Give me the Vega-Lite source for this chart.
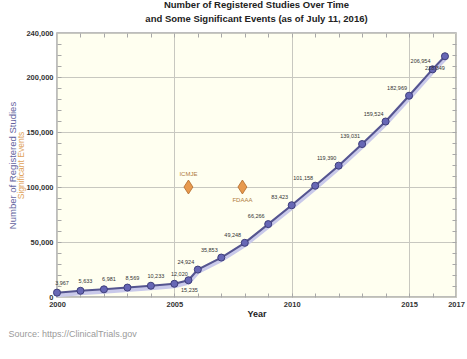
{
  "$schema": "https://vega.github.io/schema/vega-lite/v6.json",
  "width": 399,
  "height": 264,
  "autosize": {"type": "none"},
  "padding": {"left": 57, "top": 33, "right": 11, "bottom": 62},
  "background": "white",
  "title": {
    "text": ["Number of Registered Studies Over Time", "and Some Significant Events (as of July 11, 2016)"],
    "font": "Liberation Sans",
    "fontSize": 9.5,
    "fontWeight": "bold",
    "color": "#222222",
    "lineHeight": 14,
    "offset": 6,
    "anchor": "middle"
  },
  "config": {
    "view": {"fill": "#FFFFF0", "stroke": "#A8A8A8", "strokeWidth": 1.5},
    "font": "Liberation Sans"
  },
  "datasets": {
    "studies": [
      {"year": 2000, "count": 3967},
      {"year": 2001, "count": 5633},
      {"year": 2002, "count": 6981},
      {"year": 2003, "count": 8569},
      {"year": 2004, "count": 10233},
      {"year": 2005, "count": 12020},
      {"year": 2005.6, "count": 15235},
      {"year": 2006, "count": 24924},
      {"year": 2007, "count": 35853},
      {"year": 2008, "count": 49248},
      {"year": 2009, "count": 66266},
      {"year": 2010, "count": 83423},
      {"year": 2011, "count": 101158},
      {"year": 2012, "count": 119390},
      {"year": 2013, "count": 139031},
      {"year": 2014, "count": 159524},
      {"year": 2015, "count": 182969},
      {"year": 2016, "count": 206954},
      {"year": 2016.53, "count": 218849}
    ],
    "events": [
      {"year": 2005.6, "value": 100000, "event": "ICMJE"},
      {"year": 2007.9, "value": 100000, "event": "FDAAA"}
    ]
  },
  "layer": [
    {
      "data": {"name": "studies"},
      "mark": {"type": "line", "color": "#C9C9EA", "strokeWidth": 5, "yOffset": 2},
      "encoding": {
        "x": {
          "field": "year", "type": "quantitative",
          "scale": {"domain": [2000, 2017], "nice": false, "zero": false},
          "axis": {
            "orient": "bottom",
            "values": [2000, 2005, 2010, 2015, 2017],
            "format": "d",
            "labelFont": "Liberation Sans", "labelFontSize": 7.5, "labelFontWeight": "bold", "labelColor": "#333333",
            "labelPadding": 3, "labelFlush": false, "labelOverlap": false,
            "ticks": false, "domain": false,
            "grid": true, "gridColor": "#C8C8C0", "gridWidth": 1,
            "title": "Year", "titleFontSize": 9, "titleFontWeight": "bold", "titleColor": "#222222",
            "titlePadding": 2
          }
        },
        "y": {
          "field": "count", "type": "quantitative",
          "scale": {"domain": [0, 240000], "nice": false},
          "axis": {
            "orient": "left",
            "values": [0, 50000, 100000, 150000, 200000, 240000],
            "format": ",d",
            "labelFont": "Liberation Sans", "labelFontSize": 7.5, "labelFontWeight": "bold", "labelColor": "#333333",
            "labelPadding": 4, "labelFlush": false, "labelOverlap": false,
            "ticks": false, "domain": false,
            "grid": true, "gridColor": "#C8C8C0", "gridWidth": 1,
            "title": "Significant Events", "titleColor": "#E0A35A", "titleFontSize": 8.5, "titleFontWeight": "normal",
            "titleX": -37, "titleY": 132, "titleAngle": -90, "titleAlign": "center", "titleBaseline": "middle"
          }
        }
      }
    },
    {
      "data": {"name": "studies"},
      "mark": {"type": "line", "color": "#55558F", "strokeWidth": 2},
      "encoding": {
        "x": {
          "field": "year", "type": "quantitative",
          "axis": {
            "orient": "top",
            "values": [2001, 2002, 2003, 2004, 2005, 2006, 2007, 2008, 2009, 2010, 2011, 2012, 2013, 2014, 2015, 2016],
            "labels": false, "domain": false, "grid": false, "title": null,
            "ticks": true, "tickSize": -4, "tickColor": "#A8A8A8"
          }
        },
        "y": {
          "field": "count", "type": "quantitative",
          "axis": {
            "orient": "right",
            "values": [10000, 20000, 30000, 40000, 50000, 60000, 70000, 80000, 90000, 100000, 110000, 120000, 130000, 140000, 150000, 160000, 170000, 180000, 190000, 200000, 210000, 220000, 230000],
            "labels": false, "domain": false, "grid": false, "title": null,
            "ticks": true, "tickSize": -4, "tickColor": "#A8A8A8"
          }
        }
      }
    },
    {
      "data": {"name": "studies"},
      "mark": {"type": "point", "shape": "circle", "filled": true, "size": 50, "fill": "#6767B5", "stroke": "#3E3E7A", "strokeWidth": 1, "opacity": 1},
      "encoding": {
        "x": {"field": "year", "type": "quantitative", "axis": null},
        "y": {"field": "count", "type": "quantitative", "axis": null}
      }
    },
    {
      "data": {"name": "studies"},
      "transform": [{"filter": "datum.year <= 2005"}],
      "mark": {"type": "text", "fontSize": 5.5, "color": "#333333", "dx": 5, "dy": -10},
      "encoding": {
        "x": {"field": "year", "type": "quantitative", "axis": null},
        "y": {"field": "count", "type": "quantitative", "axis": null},
        "text": {"field": "count", "type": "quantitative", "format": ","}
      }
    },
    {
      "data": {"name": "studies"},
      "transform": [{"filter": "datum.year >= 2006 && datum.year <= 2016"}],
      "mark": {"type": "text", "fontSize": 5.5, "color": "#333333", "dx": -12, "dy": -8},
      "encoding": {
        "x": {"field": "year", "type": "quantitative", "axis": null},
        "y": {"field": "count", "type": "quantitative", "axis": null},
        "text": {"field": "count", "type": "quantitative", "format": ","}
      }
    },
    {
      "data": {"name": "studies"},
      "transform": [{"filter": "datum.year == 2005.6"}],
      "mark": {"type": "text", "fontSize": 5.5, "color": "#333333", "dx": 1, "dy": 10},
      "encoding": {
        "x": {"field": "year", "type": "quantitative", "axis": null},
        "y": {"field": "count", "type": "quantitative", "axis": null},
        "text": {"field": "count", "type": "quantitative", "format": ","}
      }
    },
    {
      "data": {"name": "studies"},
      "transform": [{"filter": "datum.year > 2016"}],
      "mark": {"type": "text", "fontSize": 5.5, "color": "#333333", "dx": -10, "dy": 12},
      "encoding": {
        "x": {"field": "year", "type": "quantitative", "axis": null},
        "y": {"field": "count", "type": "quantitative", "axis": null},
        "text": {"field": "count", "type": "quantitative", "format": ","}
      }
    },
    {
      "data": {"name": "events"},
      "mark": {"type": "point", "shape": "M0,-1.4L0.9,0L0,1.4L-0.9,0Z", "filled": true, "size": 100, "fill": "#E89A4E", "stroke": "#B06A2A", "strokeWidth": 0.8, "opacity": 1},
      "encoding": {
        "x": {
          "field": "year", "type": "quantitative",
          "axis": {
            "orient": "bottom",
            "values": [2001, 2002, 2003, 2004, 2005, 2006, 2007, 2008, 2009, 2010, 2011, 2012, 2013, 2014, 2015, 2016],
            "labels": false, "domain": false, "grid": false,
            "ticks": true, "tickSize": -4, "tickColor": "#A8A8A8",
            "title": "Source: https://ClinicalTrials.gov",
            "titleFont": "Liberation Sans", "titleFontSize": 9, "titleFontWeight": "normal", "titleColor": "#9A9A9A",
            "titleX": -49, "titleY": 36, "titleAlign": "left", "titleBaseline": "middle", "titleAnchor": "start"
          }
        },
        "y": {
          "field": "value", "type": "quantitative",
          "axis": {
            "orient": "left",
            "values": [10000, 20000, 30000, 40000, 50000, 60000, 70000, 80000, 90000, 100000, 110000, 120000, 130000, 140000, 150000, 160000, 170000, 180000, 190000, 200000, 210000, 220000, 230000],
            "labels": false, "domain": false, "grid": false,
            "ticks": true, "tickSize": -4, "tickColor": "#A8A8A8",
            "title": "Number of Registered Studies", "titleColor": "#6464A0", "titleFontSize": 9.5, "titleFontWeight": "normal",
            "titleX": -45, "titleY": 132, "titleAngle": -90, "titleAlign": "center", "titleBaseline": "middle"
          }
        }
      }
    },
    {
      "data": {"name": "events"},
      "transform": [{"filter": "datum.event == 'ICMJE'"}],
      "mark": {"type": "text", "fontSize": 6, "color": "#B07A40", "dy": -13},
      "encoding": {
        "x": {"field": "year", "type": "quantitative", "axis": null},
        "y": {"field": "value", "type": "quantitative", "axis": null},
        "text": {"field": "event"}
      }
    },
    {
      "data": {"name": "events"},
      "transform": [{"filter": "datum.event == 'FDAAA'"}],
      "mark": {"type": "text", "fontSize": 6, "color": "#B07A40", "dy": 13},
      "encoding": {
        "x": {"field": "year", "type": "quantitative", "axis": null},
        "y": {"field": "value", "type": "quantitative", "axis": null},
        "text": {"field": "event"}
      }
    }
  ],
  "resolve": {"axis": {"x": "independent", "y": "independent"}}
}
